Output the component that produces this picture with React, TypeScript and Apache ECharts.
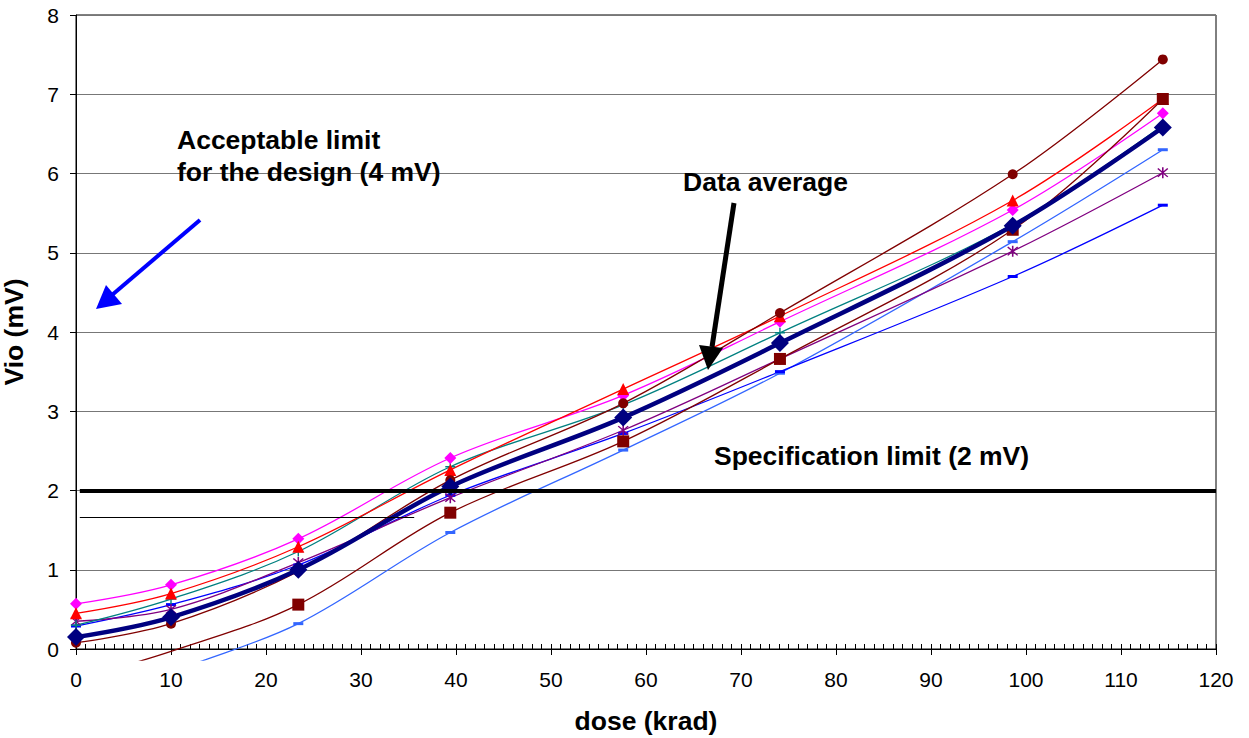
import React, { useEffect, useRef } from "react";
import * as echarts from "echarts";

const doses = [0, 10, 23.4, 39.4, 57.6, 74.1, 98.6, 114.4];

const circleVals = [0.08, 0.32, 0.98, 2.13, 3.1, 4.24, 5.99, 7.44];
const squareVals = [-0.38, -0.03, 0.56, 1.72, 2.62, 3.66, 5.29, 6.94];
const lightBlueVals = [-0.85, -0.3, 0.32, 1.47, 2.51, 3.48, 5.14, 6.3];
const triangleVals = [0.45, 0.7, 1.29, 2.26, 3.28, 4.2, 5.66, 6.94];
const magentaVals = [0.57, 0.81, 1.39, 2.41, 3.2, 4.13, 5.54, 6.76];
const tealVals = [0.3, 0.63, 1.23, 2.3, 3.08, 3.99, 5.36, 6.61];
const blueVals = [0.29, 0.56, 1.06, 1.94, 2.72, 3.5, 4.7, 5.6];
const purpleVals = [0.35, 0.5, 1.09, 1.91, 2.76, 3.66, 5.02, 6.01];
const averageVals = [0.15, 0.4, 1.0, 2.05, 2.92, 3.86, 5.34, 6.58];

const specLimit = 2;
const thinLimit = 1.66;
const thinLimitEnd = 35.6;
const limitStart = 0.4;

const xTicks = { min: 0, max: 120, interval: 10 };
const yTicks = { min: 0, max: 8, interval: 1 };
// plot area for data extends slightly below the zero axis (lines drawn a little below it)
const dataYMin = -0.14;

const FONT = "'Liberation Sans', Arial, sans-serif";

const PLUS = "path://M4.3,0H5.7V4.3H10V5.7H5.7V10H4.3V5.7H0V4.3H4.3Z";
const STAR =
  "path://M4.4,0H5.6V10H4.4Z M0.8,1.6L1.6,0.8L9.2,8.4L8.4,9.2Z M8.4,0.8L9.2,1.6L1.6,9.2L0.8,8.4Z";
const DASH = "path://M0,0H10V2H0Z";

function pairs(vals: number[]) {
  return doses.map((d, i) =>
    vals[i] < yTicks.min ? { value: [d, vals[i]], symbol: "none" } : { value: [d, vals[i]] }
  );
}

function mkSeries(
  name: string,
  vals: number[],
  color: string,
  symbol: string,
  symbolSize: number | number[],
  width = 1.3,
  z = 2
) {
  return {
    name,
    type: "line",
    xAxisIndex: 2,
    yAxisIndex: 1,
    data: pairs(vals),
    smooth: 0.35,
    clip: true,
    symbol,
    symbolSize,
    showAllSymbol: true,
    z,
    lineStyle: { color, width },
    itemStyle: { color, borderWidth: 0 },
    emphasis: { disabled: true },
  };
}

export default function App() {
  const ref = useRef<HTMLDivElement>(null);
  useEffect(() => {
    if (!ref.current) return;
    const chart = echarts.init(ref.current, null, { renderer: "svg" });
    const series: any[] = [
      mkSeries("lightblue", lightBlueVals, "#3366FF", DASH, [10, 3]),
      mkSeries("blue", blueVals, "#0000FF", DASH, [10, 3]),
      mkSeries("purple", purpleVals, "#800080", STAR, 11),
      mkSeries("teal", tealVals, "#008080", PLUS, 10),
      mkSeries("magenta", magentaVals, "#FF00FF", "diamond", 12),
      mkSeries("triangle", triangleVals, "#FF0000", "triangle", 12),
      mkSeries("square", squareVals, "#800000", "rect", 12),
      mkSeries("circle", circleVals, "#800000", "circle", 10),
      mkSeries("average", averageVals, "#000080", "diamond", 18, 4.5, 5),
    ];
    series[8].markLine = {
      silent: true,
      symbol: "none",
      label: { show: false },
      animation: false,
      z: 6,
      data: [
        [
          { coord: [limitStart, specLimit], lineStyle: { color: "#000", width: 4, type: "solid" } },
          { coord: [xTicks.max, specLimit] },
        ],
        [
          { coord: [limitStart, thinLimit], lineStyle: { color: "#000", width: 1.2, type: "solid" } },
          { coord: [thinLimitEnd, thinLimit] },
        ],
      ],
    };

    const boldText = (text: string, x: number, y: number, extra: any = {}) => ({
      type: "text",
      x,
      y,
      z: 20,
      style: {
        text,
        font: `bold 26.5px ${FONT}`,
        fill: "#000",
        align: "left",
        verticalAlign: "middle",
        ...extra,
      },
    });

    const pxPerUnit = (738 - 89 - 15) / (yTicks.max - yTicks.min);
    const dataBottom = 89 - (yTicks.min - dataYMin) * pxPerUnit;

    chart.setOption({
      animation: false,
      grid: [
        {
          left: 76,
          right: 33,
          top: 15,
          bottom: 89,
          show: true,
          borderColor: "#000",
          borderWidth: 1,
          backgroundColor: "transparent",
        },
        { left: 76, right: 33, top: 15, bottom: dataBottom },
      ],
      xAxis: [
        {
          type: "value",
          gridIndex: 0,
          ...xTicks,
          axisLine: { show: true, lineStyle: { color: "#000", width: 1 } },
          axisTick: { show: true, length: 6, lineStyle: { color: "#000" } },
          axisLabel: { fontSize: 21, color: "#000", margin: 20, fontFamily: FONT },
          splitLine: { show: false },
        },
        {
          type: "value",
          gridIndex: 0,
          position: "top",
          offset: -634,
          min: 0,
          max: 120,
          interval: 1,
          axisLine: { show: false },
          axisTick: { show: true, inside: false, length: 5, lineStyle: { color: "#000" } },
          axisLabel: { show: false },
          splitLine: { show: false },
        },
        {
          type: "value",
          gridIndex: 1,
          min: xTicks.min,
          max: xTicks.max,
          show: false,
        },
      ],
      yAxis: [
        {
          type: "value",
          gridIndex: 0,
          ...yTicks,
          axisLine: { show: true, lineStyle: { color: "#000", width: 1 } },
          axisTick: { show: true, length: 6, lineStyle: { color: "#000" } },
          axisLabel: { fontSize: 21, color: "#000", margin: 17, fontFamily: FONT },
          splitLine: { show: true, lineStyle: { color: "#777", width: 1 } },
        },
        {
          type: "value",
          gridIndex: 1,
          min: dataYMin,
          max: yTicks.max,
          show: false,
        },
      ],
      series,
      graphic: [
        boldText("Acceptable limit", 177, 140),
        boldText("for the design (4 mV)", 177, 172),
        boldText("Data average", 683, 182),
        boldText("Specification limit (2 mV)", 714, 456),
        boldText("dose (krad)", 646, 721, { align: "center" }),
        {
          type: "text",
          x: 14,
          y: 332,
          rotation: Math.PI / 2,
          z: 20,
          style: {
            text: "Vio (mV)",
            font: `bold 26.5px ${FONT}`,
            fill: "#000",
            align: "center",
            verticalAlign: "middle",
          },
        },
        {
          type: "line",
          z: 20,
          shape: { x1: 200, y1: 220, x2: 112, y2: 295 },
          style: { stroke: "#0000FF", lineWidth: 4 },
        },
        {
          type: "polygon",
          z: 20,
          shape: { points: [[96, 309], [106, 285], [122, 304]] },
          style: { fill: "#0000FF" },
        },
        {
          type: "line",
          z: 20,
          shape: { x1: 734, y1: 203, x2: 712, y2: 347 },
          style: { stroke: "#000", lineWidth: 5 },
        },
        {
          type: "polygon",
          z: 20,
          shape: { points: [[708, 370], [699, 345], [723, 348]] },
          style: { fill: "#000" },
        },
      ],
    });
    return () => chart.dispose();
  }, []);
  return (
    <div
      ref={ref}
      style={{ position: "fixed", left: 0, top: 0, width: 1249, height: 738, background: "#fff" }}
    />
  );
}
